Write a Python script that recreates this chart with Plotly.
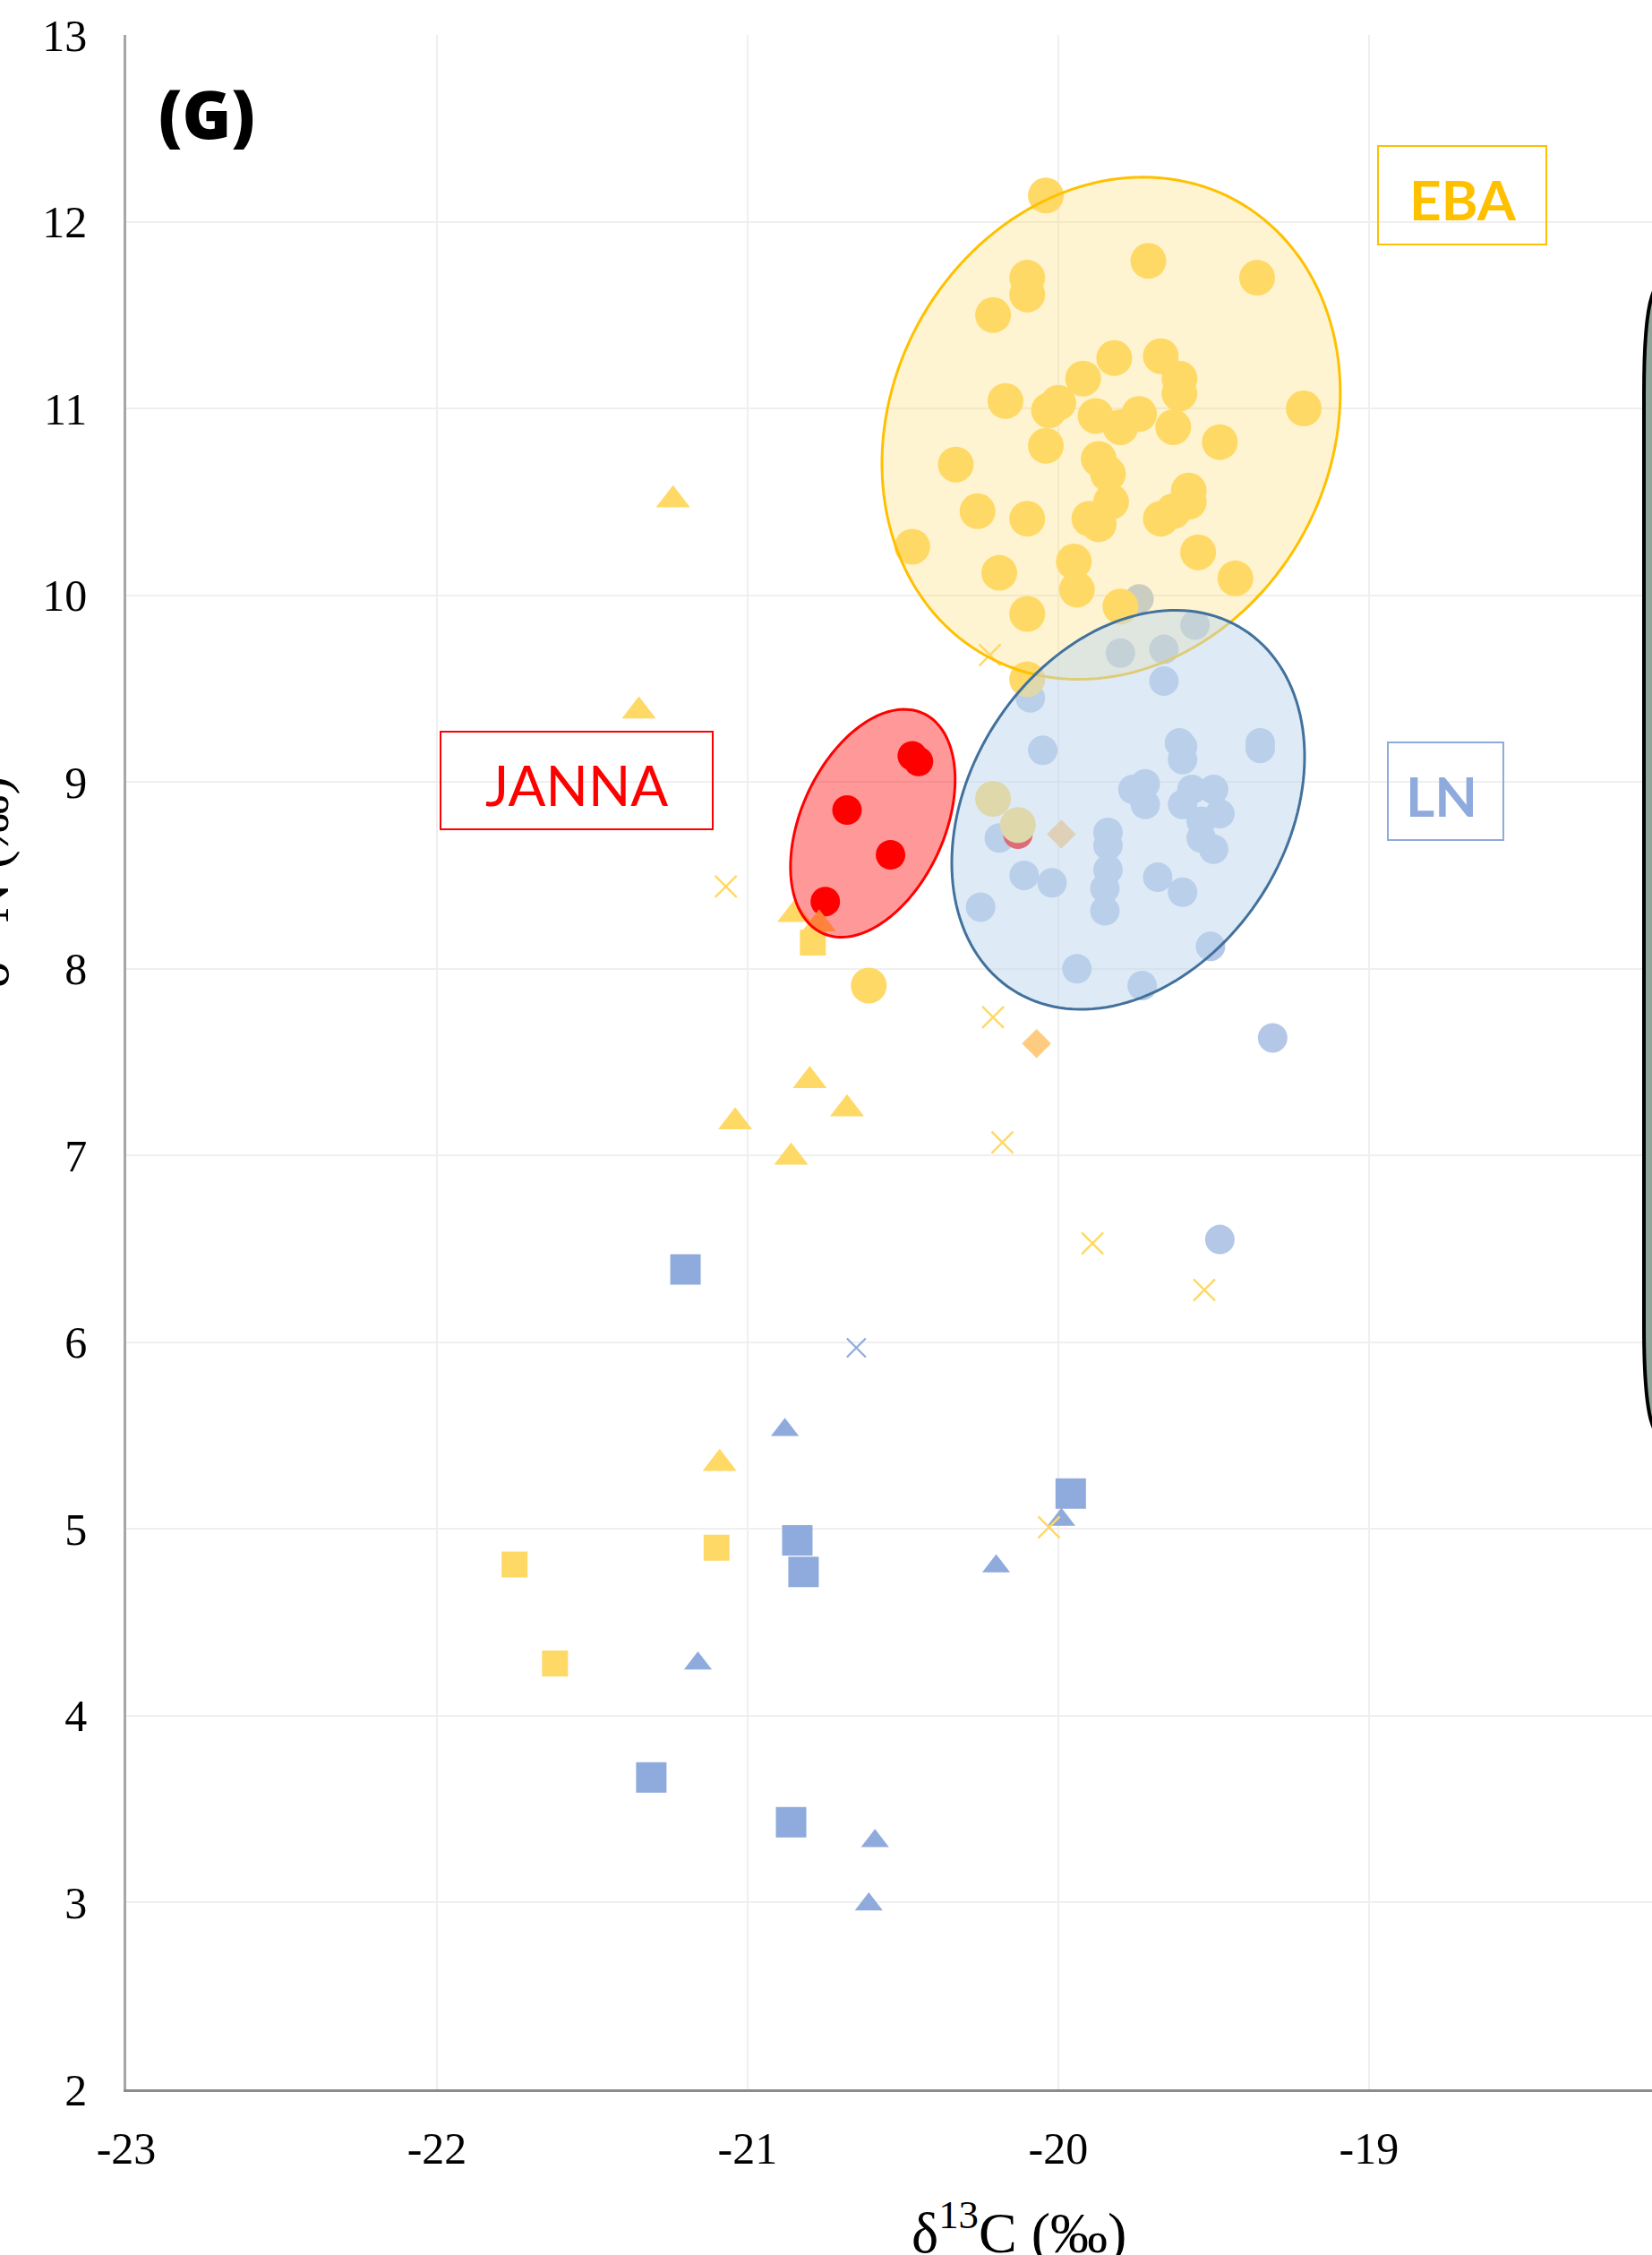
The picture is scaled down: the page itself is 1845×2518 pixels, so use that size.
import numpy as np
import plotly.graph_objects as go

# ---------------- data ----------------
eba_circle_x = [-20.04, -20.10, -20.10, -20.21, -19.71, -19.36, -19.82, -19.67, -19.92, -19.61,
                -19.61, -19.21, -20.17, -20.03, -20.00, -19.88, -19.80, -19.74, -19.63, -19.48,
                -20.04, -20.33, -19.87, -19.84, -19.83, -19.58, -19.58, -20.26, -20.10, -19.90,
                -19.87, -19.67, -19.63, -20.47, -19.55, -20.19, -19.95, -19.94, -19.43, -20.10,
                -19.80, -20.10, -20.21, -20.13, -20.61]
eba_circle_y = [12.14, 11.70, 11.61, 11.50, 11.79, 11.70, 11.27, 11.28, 11.16, 11.16,
                11.08, 11.00, 11.04, 10.99, 11.03, 10.96, 10.90, 10.97, 10.90, 10.82,
                10.80, 10.70, 10.73, 10.65, 10.50, 10.56, 10.50, 10.45, 10.41, 10.41,
                10.38, 10.41, 10.45, 10.26, 10.23, 10.12, 10.18, 10.03, 10.09, 9.90,
                9.94, 9.55, 8.91, 8.77, 7.91]

eba_tri_x = [-21.24, -21.35, -20.85, -20.77, -20.80, -20.68, -21.04, -20.86, -21.09]
eba_tri_y = [10.51, 9.38, 8.29, 8.24, 7.40, 7.25, 7.18, 6.99, 5.35]

eba_sq_x = [-20.79, -21.75, -21.10, -21.62]
eba_sq_y = [8.14, 4.81, 4.90, 4.28]

eba_x_x = [-19.89, -20.03, -21.07, -20.21, -20.22, -20.18, -19.53]
eba_x_y = [6.53, 5.01, 8.44, 7.74, 9.68, 7.07, 6.28]

diamond_x = [-20.07, -19.99]
diamond_y = [7.60, 8.72]

ln_circle_x = [-19.74, -19.56, -19.80, -19.66, -19.66, -20.09, -20.05, -19.61, -19.60, -19.60,
               -19.35, -19.35, -19.76, -19.72, -19.72, -19.57, -19.50, -19.60, -19.48, -19.54,
               -19.50, -19.54, -20.19, -19.84, -19.84, -20.11, -20.02, -19.84, -19.85, -19.85,
               -19.68, -19.60, -20.25, -19.51, -19.94, -19.73, -19.31, -19.48]
ln_circle_y = [9.98, 9.84, 9.69, 9.71, 9.54, 9.45, 9.17, 9.21, 9.19, 9.12,
               9.21, 9.18, 8.96, 8.99, 8.88, 8.96, 8.96, 8.88, 8.83, 8.70,
               8.64, 8.79, 8.70, 8.73, 8.66, 8.50, 8.46, 8.53, 8.43, 8.31,
               8.49, 8.41, 8.33, 8.12, 8.00, 7.91, 7.63, 6.55]

ln_sq_x = [-21.20, -20.84, -20.82, -19.96, -21.31, -20.86]
ln_sq_y = [6.39, 4.94, 4.77, 5.19, 3.67, 3.43]

ln_tri_x = [-20.88, -19.99, -20.20, -21.16, -20.59, -20.61]
ln_tri_y = [5.53, 5.05, 4.80, 4.28, 3.33, 2.99]

ln_x_x = [-20.65]
ln_x_y = [5.97]

janna_x = [-20.47, -20.45, -20.68, -20.54, -20.75, -20.13]
janna_y = [9.14, 9.11, 8.85, 8.61, 8.36, 8.72]

x_ticks = [-23, -22, -21, -20, -19]
y_ticks = list(range(2, 14))

# ---------------- layout constants ----------------
W, H = 1845, 2518
ML, MR, MT, MB = 141, 0, 39, 185
X_RANGE = [-23, -18.089]
Y_RANGE = [2, 13]
PW = W - ML - MR
PH = H - MT - MB
PX_X = PW / (X_RANGE[1] - X_RANGE[0])
PX_Y = PH / (Y_RANGE[1] - Y_RANGE[0])


def paper(px, py):
    return (px - ML) / PW, (H - MB - py) / PH


def ellipse_path(cx, cy, a, b, theta_deg, n=160):
    th = np.radians(theta_deg)
    t = np.linspace(0, 2 * np.pi, n, endpoint=False)
    ux, uy = np.sin(th), -np.cos(th)
    vx, vy = np.cos(th), np.sin(th)
    dx = a * np.cos(t) * ux + b * np.sin(t) * vx
    dy = a * np.cos(t) * uy + b * np.sin(t) * vy
    xs = cx + dx / PX_X
    ys = cy - dy / PX_Y
    return "M " + " L ".join(f"{x:.5f},{y:.5f}" for x, y in zip(xs, ys)) + " Z"


YEL = "#FFD966"
BLU_L = "#B4C7E7"
BLU = "#8FAADC"

fig = go.Figure()


def add(x, y, symbol, size, color, line=None):
    m = dict(symbol=symbol, size=size, color=color)
    m["line"] = line if line else dict(width=0)
    fig.add_trace(go.Scatter(x=x, y=y, mode="markers", marker=m, showlegend=False,
                             hoverinfo="skip"))


add(ln_circle_x, ln_circle_y, "circle", 33, BLU_L)
add(ln_tri_x, ln_tri_y, "triangle-up", 27, BLU)
add(ln_sq_x, ln_sq_y, "square", 34, BLU)
add(ln_x_x, ln_x_y, "x-thin", 21, BLU, dict(width=2.2, color=BLU))
add(janna_x, janna_y, "circle", 33, "#FF0000")
add(eba_circle_x, eba_circle_y, "circle", 40, YEL)
add(eba_tri_x, eba_tri_y, "triangle-up", 33, YEL)
add(eba_sq_x, eba_sq_y, "square", 29, YEL)
add(eba_x_x, eba_x_y, "x-thin", 24, YEL, dict(width=2.5, color=YEL))
add(diamond_x, diamond_y, "diamond", 25, "#FECB80")

shapes = []
# group ellipses
shapes.append(dict(type="path", xref="x", yref="y", layer="above",
                   path=ellipse_path(-19.830, 10.894, 290, 245, 28.5),
                   fillcolor="rgba(255,217,102,0.3)", line=dict(color="#FFC000", width=3)))
shapes.append(dict(type="path", xref="x", yref="y", layer="above",
                   path=ellipse_path(-19.775, 8.851, 239, 177, 32.6),
                   fillcolor="rgba(189,215,238,0.5)", line=dict(color="#41719C", width=3)))
shapes.append(dict(type="path", xref="x", yref="y", layer="above",
                   path=ellipse_path(-20.597, 8.779, 135, 80, 24.6),
                   fillcolor="rgba(255,0,0,0.4)", line=dict(color="#FF0000", width=3)))

# label boxes
for (x0, y0, x1, y1, col) in [(1539, 163, 1727, 273, "#FFC000"),
                              (492, 817, 796, 926, "#FF0000"),
                              (1550, 829, 1679, 938, BLU)]:
    px0, py0 = paper(x0, y1)
    px1, py1 = paper(x1, y0)
    shapes.append(dict(type="rect", xref="paper", yref="paper", x0=px0, y0=py0, x1=px1, y1=py1,
                       line=dict(color=col, width=2), fillcolor="rgba(0,0,0,0)", layer="above"))

# partially visible rounded legend panel at right edge
pts = [(1900, 304), (1880, 304), (1845, 304), (1836, 330), (1836, 440), (1836, 1480),
       (1836, 1590), (1845, 1616), (1880, 1616), (1900, 1616)]
pp = [paper(*p) for p in pts]
path = (f"M {pp[0][0]},{pp[0][1]} L {pp[1][0]},{pp[1][1]} "
        f"C {pp[2][0]},{pp[2][1]} {pp[3][0]},{pp[3][1]} {pp[4][0]},{pp[4][1]} "
        f"L {pp[5][0]},{pp[5][1]} "
        f"C {pp[6][0]},{pp[6][1]} {pp[7][0]},{pp[7][1]} {pp[8][0]},{pp[8][1]} "
        f"L {pp[9][0]},{pp[9][1]} Z")
shapes.append(dict(type="path", xref="paper", yref="paper", path=path, layer="above",
                   fillcolor="#8FA59A", line=dict(color="#000000", width=4)))

annotations = []


def ann(text, px, py, size, color, family, angle=0, weight=None):
    x, y = paper(px, py)
    f = dict(size=size, color=color, family=family)
    if weight:
        f["weight"] = weight
    annotations.append(dict(text=text, x=x, y=y, xref="paper", yref="paper", showarrow=False,
                            xanchor="center", yanchor="middle", textangle=angle, font=f))


ann("EBA", 1634, 222, 62, "#FFC000", "Lato, Calibri, sans-serif", weight="bold")
ann("JANNA", 644, 876, 62, "#FF0000", "Lato, Calibri, sans-serif")
ann("LN", 1610, 888, 62, BLU, "Lato, Calibri, sans-serif", weight="bold")
ann("(G)", 231, 126, 74, "#000000", "Noto Sans", weight=900)
ann("δ<sup>13</sup>C (‰)", 1138, 2488, 64, "#000000", "Liberation Serif, Times New Roman, serif")
ann("δ<sup>15</sup>N (‰)", -16, 985, 62, "#000000", "Liberation Serif, Times New Roman, serif", -90)

axis_font = dict(family="Liberation Serif, Times New Roman, serif", size=50, color="#000000")

fig.update_layout(
    width=W, height=H, template="none",
    margin=dict(l=ML, r=MR, t=MT, b=MB, pad=0),
    paper_bgcolor="white", plot_bgcolor="white",
    shapes=shapes, annotations=annotations, showlegend=False,
    xaxis=dict(range=X_RANGE, tickvals=x_ticks, ticktext=[str(v) for v in x_ticks],
               showgrid=True, gridcolor="#EFEFEF", gridwidth=2, zeroline=False,
               showline=True, linecolor="#8C8C8C", linewidth=3, ticks="",
               ticklabelstandoff=20, tickfont=axis_font, automargin=False),
    yaxis=dict(range=Y_RANGE, tickvals=y_ticks, ticktext=[str(v) for v in y_ticks],
               showgrid=True, gridcolor="#EFEFEF", gridwidth=2, zeroline=False,
               showline=True, linecolor="#A6A6A6", linewidth=2.5, ticks="",
               ticklabelstandoff=31, tickfont=axis_font, automargin=False),
)

fig.write_html("out.html", config={"displayModeBar": False},
               post_script="document.body.style.margin='0';document.body.style.overflow='hidden';")
